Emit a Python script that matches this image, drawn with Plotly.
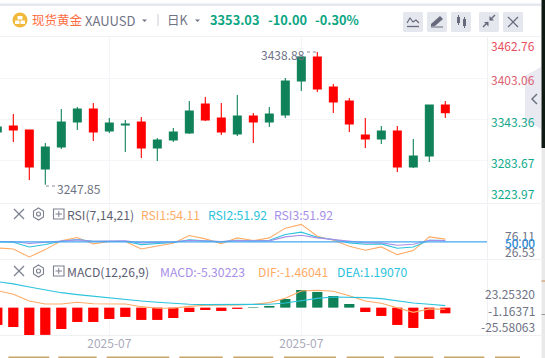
import plotly.graph_objects as go

W, H = 545, 358

# ---------- data ----------
index = list(range(29))
opens = [3324.8, 3333.6, 3327.8, 3270.8, 3302.9, 3339.5, 3358.5, 3326.3, 3335.1, 3339.5, 3301.4, 3313.2, 3323.4, 3365.8, 3345.3,
         3321.9, 3348.2, 3339.5, 3349.7, 3399.4, 3434.5, 3390.6, 3370.2, 3320.5, 3314.6, 3326.3, 3273.7, 3289.8, 3364.3]
closes = [3332.2, 3327.8, 3273.7, 3302.9, 3339.5, 3358.5, 3324.8, 3338.0, 3336.5, 3301.4, 3313.2, 3324.8, 3355.5, 3342.4, 3324.8,
          3348.2, 3339.5, 3351.2, 3399.4, 3434.5, 3387.7, 3368.7, 3336.5, 3314.6, 3326.3, 3273.7, 3289.8, 3364.3, 3353.03]
highs = [3336.0, 3351.2, 3327.8, 3308.8, 3358.5, 3361.4, 3367.2, 3345.3, 3342.4, 3346.8, 3316.1, 3330.7, 3370.2, 3376.0, 3367.2,
         3378.9, 3352.6, 3361.4, 3403.8, 3434.5, 3441.8, 3395.0, 3374.5, 3345.3, 3333.6, 3333.6, 3314.6, 3364.3, 3370.2]
lows = [3320.0, 3310.2, 3254.7, 3247.85, 3300.0, 3327.8, 3311.7, 3323.4, 3295.6, 3286.8, 3282.4, 3310.2, 3321.9, 3340.9, 3320.5,
        3319.0, 3308.8, 3332.2, 3345.3, 3384.8, 3383.3, 3352.6, 3324.8, 3301.4, 3307.3, 3266.4, 3272.2, 3281.0, 3345.3]

rsi1 = [41, 39.5, 27.5, 38.5, 51.5, 56.5, 47, 50.5, 50.5, 39.5, 44, 48, 59.5, 54.5, 47.5, 56, 52, 56, 70.5, 76.11, 58.5, 52.5,
        43.5, 37.5, 42.5, 31, 37, 57.5, 54.11]
rsi2 = [50, 49.5, 42.5, 46, 51, 53.5, 51, 51, 51, 46, 47, 49, 53, 52, 50, 52.5, 51.5, 52.5, 61, 64.5, 57, 53.5, 48.5, 46.5, 47,
        40.5, 42.5, 52.5, 51.92]
rsi3 = [50.5, 50.5, 47.5, 49, 51.5, 53, 51, 51.5, 51.5, 48.5, 49, 50, 52.5, 51.5, 50.5, 52, 51.5, 51.5, 57.5, 60, 56, 53.5, 50.5,
        48.5, 48.5, 45, 46.5, 52.5, 51.92]
rsi_mid = 50.0

macd = [-16.2, -18.1, -25.58, -25.5, -20.0, -13.4, -13.4, -10.6, -8.7, -11.5, -11.5, -9.7, -4.1, -2.2, -3.1, -1.2, 0.5, 1.6, 8.1,
        16.5, 14.7, 10.9, 3.4, -4.1, -7.8, -16.2, -19.0, -10.6, -5.30223]
dif = [15.9, 12.5, 6.2, 3.4, 3.4, 5.0, 3.7, 3.7, 3.4, 0.9, -0.6, -0.6, 1.2, 2.2, 2.2, 2.5, 3.1, 4.7, 8.7, 15.6, 16.2, 15.3, 11.2,
       6.2, 4.1, -0.3, -4.4, -1.2, -1.46041]
dea = [24.3, 22.2, 19.3, 16.5, 14.0, 12.2, 10.6, 9.0, 7.8, 6.2, 5.0, 3.7, 3.1, 2.8, 2.8, 2.8, 2.8, 3.1, 4.4, 6.6, 8.7, 10.0, 10.0,
       9.4, 8.4, 6.2, 4.4, 3.1, 1.9]

grid_prices = [3403.06, 3343.36, 3283.67]
month_ticks = [7, 19]
month_labels = ["2025-07", "2025-07"]

GREEN, RED = "#10825a", "#ff0000"
ORANGE, CYAN, PURPLE = "#ffab66", "#2cc3dc", "#a78fe8"
GRID = "#f3f5f9"
GRAY = "#6f7385"
FONT = "Noto Sans CJK SC, Noto Sans, sans-serif"


def px(x):
    return x / W


def py(y):
    return 1 - y / H


shapes, annos = [], []


def rect(x0, y0, x1, y1, fill, layer="below"):
    shapes.append(dict(type="rect", xref="paper", yref="paper", x0=px(x0), x1=px(x1), y0=py(y0), y1=py(y1),
                       fillcolor=fill, line_width=0, layer=layer))


def line(x0, y0, x1, y1, color, width=1, layer="below"):
    shapes.append(dict(type="line", xref="paper", yref="paper", x0=px(x0), x1=px(x1), y0=py(y0), y1=py(y1),
                       line=dict(color=color, width=width), layer=layer))


def poly(pts, fill=None, color=None, width=1.5, close=True):
    d = "M" + " L".join(f"{px(a):.5f},{py(b):.5f}" for a, b in pts) + (" Z" if close else "")
    shapes.append(dict(type="path", xref="paper", yref="paper", path=d, fillcolor=fill or "rgba(0,0,0,0)",
                       line=dict(color=color or "rgba(0,0,0,0)", width=width if color else 0), layer="above"))


def text(x, y, s, color=GRAY, size=12, anchor="left", bold=False):
    annos.append(dict(xref="paper", yref="paper", x=px(x), y=py(y), text=f"<b>{s}</b>" if bold else s, showarrow=False,
                      xanchor=anchor, yanchor="middle", font=dict(color=color, size=size, family=FONT), borderpad=0,
                      borderwidth=0))


# ---------- page chrome ----------
rect(0, 3.5, 541, 6, "#e6e8f0")
line(0, 36.5, 541, 36.5, "#f0f1f5")
line(487.5, 37, 487.5, 335, "#eff1f5")
for yy in (203.5, 259.5, 335.5):
    line(0, yy, 541, yy, "#eef0f4")

rect(541.5, 0, 545, 148, "#101a14", "above")
rect(541.5, 148, 545, 358, "#e9e9e9", "above")
rect(541.5, 280.5, 545, 281.5, "#c98a4a", "above")
rect(541.5, 314, 545, 315, "#9a9a9a", "above")
for a, b in [(25, 148), (175, 290), (320, 508), (538, 668), (700, 820), (852, 1008), (1040, 1152), (1183, 1300), (1332, 1453),
             (1485, 1560)]:
    rect(a / 3, 356.5, b / 3, 358, "#c8a567", "above")

poly([(541, 67), (525, 76), (525, 120), (541, 129)], fill="#e8e9f1")
poly([(537, 94), (532, 99), (537, 104)], color=GRAY, width=1.5, close=False)

# header
shapes.append(dict(type="circle", xref="paper", yref="paper", x0=px(12.5), x1=px(27.5), y0=py(27.5), y1=py(12.5),
                   fillcolor="#f0b93a", line_width=0, layer="above"))
rect(17.5, 16, 22.5, 19.5, "#ffffff", "above")
rect(15, 20.5, 19.5, 24, "#ffffff", "above")
rect(20.5, 20.5, 25, 24, "#ffffff", "above")
text(32, 19.5, "现货黄金", "#ff6d3f", 12.5)
text(85, 21, "XAUUSD", GRAY, 13)
poly([(142, 19.5), (147, 19.5), (144.5, 22)], fill="#6f7385")
line(158, 14, 158, 26, "#c9ccd6")
text(167, 19.5, "日K", GRAY, 12.5)
poly([(195, 19.5), (200, 19.5), (197.5, 22)], fill="#6f7385")
text(210, 19.5, "3353.03", "#0ca582", 12.8, bold=True)
text(267.5, 19.5, "-10.00", "#0ca582", 12.8, bold=True)
text(315, 19.5, "-0.30%", "#0ca582", 12.8, bold=True)

for bx in (413, 437, 461, 489, 513):
    shapes.append(dict(type="path", xref="paper", yref="paper", layer="below", fillcolor="#e5e7ef", line_width=0,
                       path=f"M{px(bx-9)},{py(12)} L{px(bx+9)},{py(12)} L{px(bx+10)},{py(13)} L{px(bx+10)},{py(31)} "
                            f"L{px(bx+9)},{py(32)} L{px(bx-9)},{py(32)} L{px(bx-10)},{py(31)} L{px(bx-10)},{py(13)} Z"))
IC = "#666a7c"
poly([(407, 23), (410, 18), (413, 22), (416, 20), (419, 23)], color=IC, width=1.2, close=False)
line(407, 26.5, 419, 26.5, IC, 1.3, "above")
poly([(431, 24), (440, 16), (443, 19), (435, 26), (431, 26.5)], fill=IC)
line(431, 27, 443, 27, IC, 1, "above")
rect(457, 17, 460, 23, IC, "above")
rect(463, 19, 466, 26, IC, "above")
line(458.5, 15, 458.5, 25, IC, 1, "above")
line(464.5, 17, 464.5, 28, IC, 1, "above")
line(483, 27, 488, 22, IC, 1.4, "above")
line(490, 20, 495, 15, IC, 1.4, "above")
poly([(484, 22), (488.5, 22), (488.5, 26.5)], fill=IC)
poly([(489.5, 16), (489.5, 20.5), (494, 20.5)], fill=IC)
line(508, 17, 518, 27, IC, 1.2, "above")
line(518, 17, 508, 27, IC, 1.2, "above")

# indicator row icons
for yc in (214, 271):
    line(14, yc - 5, 24, yc + 5, "#7c8090", 1.2, "above")
    line(24, yc - 5, 14, yc + 5, "#7c8090", 1.2, "above")
    poly([(38.5, yc - 6), (43.5, yc - 3), (43.5, yc + 3), (38.5, yc + 6), (33.5, yc + 3), (33.5, yc - 3)], color="#7c8090",
         width=1.1)
    shapes.append(dict(type="circle", xref="paper", yref="paper", x0=px(36.5), x1=px(40.5), y0=py(yc + 2), y1=py(yc - 2),
                       line=dict(color="#7c8090", width=1.1), layer="above"))
    shapes.append(dict(type="rect", xref="paper", yref="paper", x0=px(53.5), x1=px(64), y0=py(yc + 5), y1=py(yc - 5),
                       line=dict(color="#7c8090", width=1.1), layer="above"))
    line(55.5, yc, 62, yc, "#7c8090", 1, "above")
    line(58.75, yc - 3, 58.75, yc + 3, "#7c8090", 1, "above")

text(67, 214.5, "RSI(7,14,21)", "#5d6072", 12.2)
text(141, 214.5, "RSI1:54.11", ORANGE, 12.2)
text(208, 214.5, "RSI2:51.92", CYAN, 12.2)
text(274, 214.5, "RSI3:51.92", PURPLE, 12.2)
text(67, 271.5, "MACD(12,26,9)", "#5d6072", 12.2)
text(160, 271.5, "MACD:-5.30223", PURPLE, 12.2)
text(258, 271.5, "DIF:-1.46041", ORANGE, 12.2)
text(337, 271.5, "DEA:1.19070", CYAN, 12.2)

# price labels
text(535, 45, "3462.76", "#e8505f", 12, "right")
text(535, 79.5, "3403.06", "#dc6070", 12, "right")
text(535, 121.5, "3343.36", "#16a78c", 12, "right")
text(535, 162.5, "3283.67", "#0fab8c", 12, "right")
text(535, 193.5, "3223.97", "#0fab8c", 12, "right")
text(305, 54.5, "3438.88", GRAY, 12, "right")
line(307, 52, 318, 52, "#8a8d9c", 1, "above")
shapes[-1]["line"]["dash"] = "dot"
text(57, 188, "3247.85", GRAY, 12)
line(46, 186, 56, 186, "#8a8d9c", 1, "above")
shapes[-1]["line"]["dash"] = "dot"

# indicator labels
text(535, 235.5, "76.11", GRAY, 12, "right")
text(535, 251.5, "26.53", GRAY, 12, "right")
text(535, 242.5, "50.00", GRAY, 12, "right")
text(535, 242.5, "50.00", "#2f9df0", 12, "right")
text(535, 293.5, "23.25320", GRAY, 12, "right")
text(535, 310, "-1.16371", GRAY, 12, "right")
text(535, 326.5, "-25.58063", GRAY, 12, "right")

# RSI mid line
shapes.append(dict(type="line", xref="paper", yref="y2", x0=0, x1=px(487), y0=rsi_mid, y1=rsi_mid,
                   line=dict(color="#45a8f2", width=1.4), layer="above"))

# ---------- traces ----------
fig = go.Figure()
fig.add_trace(go.Candlestick(x=index, open=opens, high=highs, low=lows, close=closes, xaxis="x", yaxis="y",
                             increasing=dict(line=dict(color=GREEN, width=1.1), fillcolor=GREEN),
                             decreasing=dict(line=dict(color=RED, width=1.1), fillcolor=RED),
                             whiskerwidth=0, showlegend=False, hoverinfo="skip"))
for series, colour in ((rsi1, ORANGE), (rsi2, CYAN), (rsi3, PURPLE)):
    fig.add_trace(go.Scatter(x=index, y=series, mode="lines", line=dict(color=colour, width=1.1), xaxis="x2", yaxis="y2",
                             showlegend=False, hoverinfo="skip"))
fig.add_trace(go.Bar(x=index, y=macd, marker=dict(color=[GREEN if v > 0 else RED for v in macd], line_width=0), width=0.64,
                     xaxis="x3", yaxis="y3", showlegend=False, hoverinfo="skip"))
for series, colour in ((dif, ORANGE), (dea, CYAN)):
    fig.add_trace(go.Scatter(x=index, y=series, mode="lines", line=dict(color=colour, width=1.1), xaxis="x3", yaxis="y3",
                             showlegend=False, hoverinfo="skip"))

XR = [0.169, 30.606]
xdom = [0, 487 / W]
xcommon = dict(range=XR, domain=xdom, showgrid=True, gridcolor=GRID, gridwidth=1, zeroline=False, showline=False,
               tickvals=month_ticks, ticks="", fixedrange=True)
ycommon = dict(side="right", showline=False, zeroline=False, ticks="", showticklabels=False, fixedrange=True)

fig.update_layout(
    width=W, height=H, margin=dict(l=0, r=0, t=0, b=0), paper_bgcolor="#ffffff", plot_bgcolor="#ffffff",
    showlegend=False, shapes=shapes, annotations=annos, font=dict(family=FONT), boxgap=0.3,
    xaxis=dict(**xcommon, anchor="y", showticklabels=False, rangeslider=dict(visible=False)),
    xaxis2=dict(**xcommon, anchor="y2", showticklabels=False, matches="x"),
    xaxis3=dict(**xcommon, anchor="y3", matches="x", showticklabels=True, ticktext=month_labels,
                tickfont=dict(color="#a8aaba", size=12, family=FONT)),
    yaxis=dict(**ycommon, domain=[1 - 203 / H, 1 - 37 / H], range=[3221.0, 3463.7], anchor="x", tickvals=grid_prices,
               showgrid=True, gridcolor=GRID),
    yaxis2=dict(**ycommon, domain=[1 - 259 / H, 1 - 203 / H], range=[24.5, 108], anchor="x2", showgrid=False),
    yaxis3=dict(**ycommon, domain=[1 - 335 / H, 1 - 259 / H], range=[-25.6, 45.5], anchor="x3", showgrid=False),
)

fig.write_html("out.html", config=dict(displayModeBar=False, staticPlot=True),
               post_script="document.body.style.margin='0';document.documentElement.style.overflow='hidden';")
